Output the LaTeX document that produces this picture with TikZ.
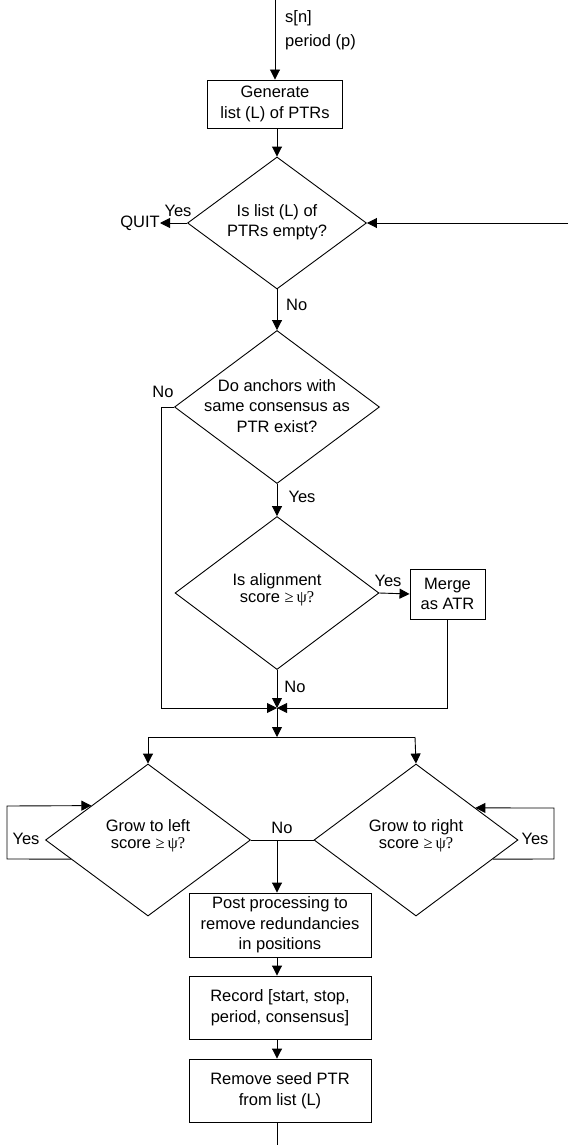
\documentclass[tikz,border=0pt]{standalone}
\usepackage{fontspec}
\setmainfont{Liberation Sans}
\newfontfamily\seriffont{Liberation Serif}
\usetikzlibrary{shapes.geometric,arrows.meta,calc}
\begin{document}
\begin{tikzpicture}[x=1pt,y=-1pt,
  font=\fontsize{16.5}{20.5}\selectfont,
  line/.style={draw=black,line width=0.9pt},
  arr/.style={line,-{Triangle[length=10pt,width=10pt]}},
  proc/.style={draw=black,line width=0.9pt,rectangle,inner sep=0pt,align=center},
  dec/.style={draw=black,line width=0.9pt,diamond,inner sep=0pt,shape aspect=1.34},
  txt/.style={inner sep=0pt,align=center},
  tight/.style={txt,font=\fontsize{16.5}{16.5}\selectfont},
  lbl/.style={inner sep=0pt}]
\useasboundingbox (0,0) rectangle (568,1145);

% nodes
\coordinate (top) at (275,0);
\coordinate (loopin) at (568,223);
\node[proc,minimum width=135pt,minimum height=48pt] (gen) at (275,104) {Generate\\list (L) of PTRs};
\node[dec,minimum width=179pt,minimum height=132pt] (d1) at (277,223) {};
\node[txt] (t1) at (277,222) {Is list (L) of\\PTRs empty?};
\node[lbl,anchor=east] (quit) at (160,223) {QUIT};
\node[dec,minimum width=205pt,minimum height=153pt] (d2) at (277,407) {};
\node[txt] (t2) at (277,406) {Do anchors with\\same consensus as\\PTR exist?};
\node[dec,minimum width=204pt,minimum height=153pt] (d3) at (277,593) {};
\node[tight] (t3) at (277,590) {Is alignment\\score {\seriffont ≥\,ψ?}};
\node[proc,minimum width=75pt,minimum height=50pt] (merge) at (447.5,594) {Merge\\as ATR};
\coordinate (J) at (277,708);
\coordinate (B) at (277,737);
\coordinate (BL) at (148,737);
\coordinate (BR) at (415,737);
\node[dec,minimum width=205pt,minimum height=152pt] (dL) at (148,840) {};
\node[tight] (tL) at (148,836) {Grow to left\\score {\seriffont ≥\,ψ?}};
\node[dec,minimum width=204pt,minimum height=152pt] (dR) at (416,840) {};
\node[tight] (tR) at (416,836) {Grow to right\\score {\seriffont ≥\,ψ?}};
\coordinate (M) at (277,840);
\node[proc,minimum width=182pt,minimum height=64pt] (post) at (280,925) {Post processing to\\remove redundancies\\in positions};
\node[proc,minimum width=182pt,minimum height=63pt] (rec) at (280,1007.5) {Record [start, stop,\\period, consensus]};
\node[proc,minimum width=182pt,minimum height=63pt] (rem) at (280,1090.5) {Remove seed PTR\\from list (L)};
\coordinate (bot) at (277,1145);

% labels
\node[lbl,anchor=west] (sn) at (285,18) {s[n]};
\node[lbl,anchor=west] (pp) at (285,42) {period (p)};
\node[lbl] (y1) at (178,211) {Yes};
\node[lbl,anchor=west] (n1) at (286,305) {No};
\node[lbl] (n2) at (163,392) {No};
\node[lbl] (y2) at (302,497) {Yes};
\node[lbl] (y3) at (388,581) {Yes};
\node[lbl] (n3) at (295,687) {No};
\node[lbl] (yL) at (26,839) {Yes};
\node[lbl] (nM) at (282,828) {No};
\node[lbl] (yR) at (535,839) {Yes};

% connectors
\draw[arr] (top) -- (gen.north);
\draw[arr] (d1.north |- gen.south) -- (d1.north);
\draw[arr] (loopin) -- (d1.east);
\draw[arr] (d1.west) -- (quit.east);
\draw[arr] (d1.south) -- (d2.north);
\draw[arr] (d2.west) -- (161,407) -- (161,708) -- (J);
\draw[arr] (d2.south) -- (d3.north);
\draw[arr] (d3.east) -- (merge.west);
\draw[arr] (merge.south) -- (merge.south |- J) -- (J);
\draw[arr] (d3.south) -- (J);
\draw[arr] (J) -- (B);
\draw[line] (BL) -- (BR);
\draw[arr] (BL) -- (dL.north);
\draw[arr] (BR) -- (dR.north);
\draw[arr] ($(dL.west)!0.25!(dL.south)$) -- (7,859) -- (7,806) -- ($(dL.west)!0.45!(dL.north)$);
\draw[arr] ($(dR.east)!0.25!(dR.south)$) -- (554,859) -- (554,808) -- ($(dR.east)!0.42!(dR.north)$);
\draw[line] (dL.east) -- (dR.west);
\draw[arr] (M) -- (M |- post.north);
\draw[arr] (M |- post.south) -- (M |- rec.north);
\draw[arr] (M |- rec.south) -- (M |- rem.north);
\draw[line] (M |- rem.south) -- (bot);
\end{tikzpicture}
\end{document}
